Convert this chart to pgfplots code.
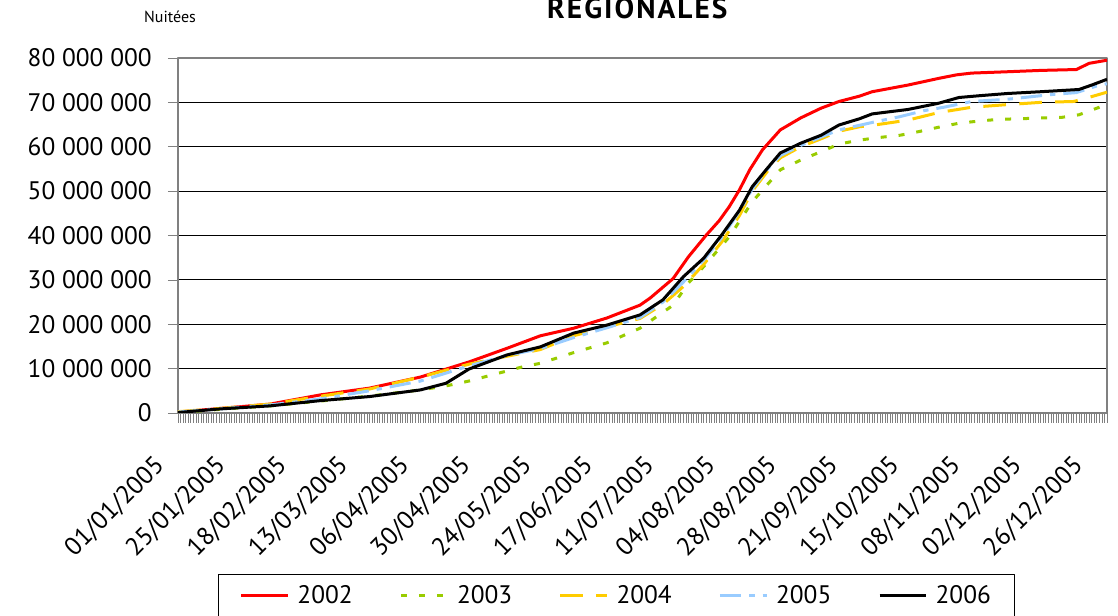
\documentclass[border=0pt]{standalone}
\usepackage{pgfplots}
\pgfplotsset{compat=1.18}
\usepackage{fontspec}
\setmainfont{PT Sans}
\definecolor{c02}{HTML}{FF0000}
\definecolor{c03}{HTML}{99CC00}
\definecolor{c04}{HTML}{FFCC00}
\definecolor{c05}{HTML}{99CCFF}
\definecolor{c06}{HTML}{000000}
\definecolor{axgray}{HTML}{808080}
\begin{document}
\begin{tikzpicture}[x=1pt,y=1pt]
\path[use as bounding box] (0,0) rectangle (838.5,462);
\node[anchor=base,font=\fontsize{22}{24}\selectfont\bfseries\addfontfeatures{LetterSpace=7}] at (478,448) {REGIONALES};
\node[anchor=base,font=\fontsize{12}{14}\selectfont] at (127.5,445) {Nuitées};
\begin{axis}[
  at={(133.5pt,152.25pt)}, anchor=south west,
  scale only axis, width=696.75pt, height=266.25pt,
  xmin=0, xmax=364, ymin=0, ymax=80,
  axis line style={axgray, line width=1pt},
  xtick={0,24,...,360},
  xticklabels={01/01/2005,25/01/2005,18/02/2005,13/03/2005,06/04/2005,30/04/2005,24/05/2005,17/06/2005,11/07/2005,04/08/2005,28/08/2005,21/09/2005,15/10/2005,08/11/2005,02/12/2005,26/12/2005},
  minor xtick={0,1,...,364},
  xtick pos=bottom, ytick pos=left,
  tick align=outside,
  major tick length=7.5pt, minor tick length=7.5pt,
  every tick/.style={axgray, line width=0.5pt},
  xticklabel style={anchor=north east, inner sep=0pt, xshift=-19pt, yshift=-23pt, rotate=45, font=\fontsize{19}{20}\selectfont},
  ytick={0,10,...,80},
  yticklabels={0,10 000 000,20 000 000,30 000 000,40 000 000,50 000 000,60 000 000,70 000 000,80 000 000},
  yticklabel style={anchor=east, inner sep=0pt, xshift=-12pt, font=\fontsize{19}{20}\selectfont},
  ymajorgrids, major grid style={black, line width=0.75pt},
  legend columns=5,
  legend style={at={(0.043,0)}, anchor=north west, yshift=-121pt, draw=black, line width=0.75pt,
    font=\fontsize{19}{20}\selectfont, inner xsep=16pt, inner ysep=6pt,
    /tikz/every even column/.append style={column sep=33pt}},
  legend image code/.code={\draw[#1] (0pt,0pt) -- (35pt,0pt); \path (39pt,0pt);},
  line join=round,
]
\addplot[c02, line width=2.25pt] coordinates {
(0,0.2)(16,1.0)(36,2.0)(56,4.1)(75,5.6)(95,8.1)(114,11.5)(129,14.6)(142,17.4)(155,19.1)(168,21.4)(181,24.3)(185,25.9)(194,30.3)(200,35.2)(207,40.1)(212,43.3)(216,46.5)(220,50.3)(224,54.8)(229,59.3)(236,63.8)(244,66.5)(252,68.7)(259,70.2)(267,71.4)(272,72.4)(286,73.9)(298,75.4)(305,76.2)(311,76.6)(325,76.9)(338,77.2)(352,77.4)(357,78.8)(364,79.5)};
\addlegendentry{2002}
\addplot[c03, line width=2.25pt, dash pattern=on 4.5pt off 9pt] coordinates {
(0,0.1)(16,0.8)(36,1.6)(56,2.7)(75,3.8)(95,5.2)(105,6.1)(114,7.2)(135,10.4)(142,11.2)(155,13.6)(168,15.8)(181,19.1)(194,24.3)(200,29.3)(206,33.0)(216,39.7)(225,47.6)(236,54.8)(244,57.0)(252,58.9)(259,60.6)(267,61.5)(275,62.1)(283,62.6)(291,63.5)(298,64.4)(306,65.3)(314,65.8)(322,66.2)(330,66.3)(338,66.5)(346,66.6)(353,67.2)(361,68.9)(364,69.6)};
\addlegendentry{2003}
\addplot[c04, line width=2.25pt, dash pattern=on 17pt off 10pt] coordinates {
(0,0.3)(16,1.0)(36,2.0)(56,3.8)(75,5.4)(95,8.1)(114,11.0)(129,12.8)(142,14.3)(155,17.4)(168,19.4)(181,21.3)(190,24.5)(198,28.5)(206,33.5)(213,38.5)(220,44.5)(225,50.0)(231,54.5)(236,57.5)(244,60.0)(252,61.8)(259,63.5)(267,64.5)(273,64.9)(286,66.0)(298,67.7)(311,68.9)(325,69.5)(338,70.0)(351,70.2)(358,71.3)(364,72.3)};
\addlegendentry{2004}
\addplot[c05, line width=2.25pt, dash pattern=on 16pt off 6pt on 4pt off 6pt] coordinates {
(0,0.2)(16,0.9)(36,1.8)(56,3.2)(75,5.0)(95,7.2)(114,10.6)(129,13.0)(142,14.5)(155,17.0)(168,19.2)(181,21.5)(190,25.0)(198,29.5)(206,34.5)(213,39.5)(220,45.5)(225,50.5)(231,55.0)(236,58.0)(244,60.3)(252,62.2)(259,63.8)(273,65.6)(283,66.8)(292,68.1)(300,68.9)(311,70.2)(325,70.7)(338,71.5)(343,71.8)(352,72.2)(360,73.7)(364,74.2)};
\addlegendentry{2005}
\addplot[c06, line width=2.25pt] coordinates {
(0,0.1)(16,0.9)(36,1.6)(56,2.8)(75,3.7)(95,5.2)(105,6.7)(114,9.9)(129,13.1)(142,14.9)(155,18.0)(168,19.8)(181,22.1)(190,25.5)(198,30.7)(206,34.9)(213,40.1)(220,45.7)(225,51.0)(231,55.2)(236,58.6)(244,60.8)(252,62.6)(259,64.9)(267,66.3)(272,67.4)(286,68.4)(298,69.8)(306,71.1)(314,71.5)(325,72.0)(338,72.4)(353,72.9)(358,73.9)(364,75.2)};
\addlegendentry{2006}
\end{axis}
\end{tikzpicture}
\end{document}
